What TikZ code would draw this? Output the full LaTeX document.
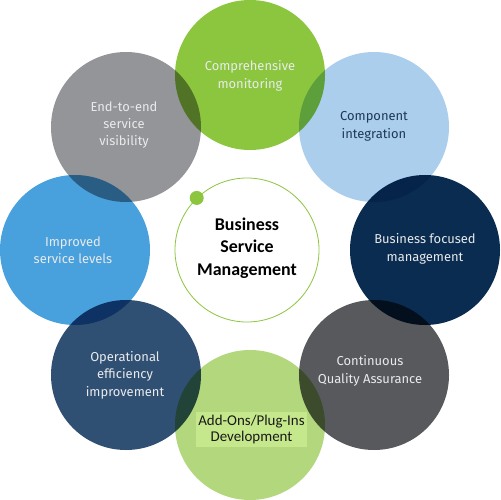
\documentclass[tikz,border=0pt]{standalone}
\usepackage{fontspec}
\setmainfont{Fira Sans}
\newfontfamily\calib{Carlito}
\definecolor{cgreen}{RGB}{140,198,63}
\definecolor{clblue}{RGB}{170,206,236}
\definecolor{cnavy}{RGB}{10,44,80}
\definecolor{cdgray}{RGB}{88,89,92}
\definecolor{clgreen}{RGB}{179,215,125}
\definecolor{cslate}{RGB}{48,80,115}
\definecolor{cblue}{RGB}{72,160,220}
\definecolor{cgray}{RGB}{147,149,152}
\definecolor{chl}{RGB}{198,232,140}
\definecolor{ctxt}{RGB}{232,234,236}
\definecolor{cdtxt}{RGB}{30,55,90}
\begin{document}
\begin{tikzpicture}[x=1bp,y=-1bp,
  circ/.style={circle,draw=none,minimum size=150bp,inner sep=0pt},
  lbl/.style={align=center,font=\fontsize{13}{17.5}\selectfont,text=ctxt,inner sep=0pt},
  hub/.style={circle,draw=cgreen,line width=0.8bp,fill=white,minimum size=144bp,inner sep=0pt},
  dot/.style={circle,fill=cgreen,minimum size=14bp,inner sep=0pt}]
\useasboundingbox (0,0) rectangle (500,500);
\fill[white] (0,0) rectangle (500,500);
\begin{scope}[blend group=multiply]
\node[circ,fill=cgreen] (c1) at (250,75) {};
\node[circ,fill=clblue] (c2) at (374,127) {};
\node[circ,fill=cnavy] (c3) at (425,250) {};
\node[circ,fill=cdgray] (c4) at (374,375) {};
\node[circ,fill=clgreen] (c5) at (250,425) {};
\node[circ,fill=cslate] (c6) at (126,375) {};
\node[circ,fill=cblue] (c7) at (75,250) {};
\node[circ,fill=cgray] (c8) at (126,127) {};
\end{scope}
\node[hub] (hub) at (247,250) {};
\node[dot] (d) at (hub.134) {};
\node[lbl] (t1) at (250,76) {Comprehensive\\monitoring};
\node[lbl,text=cdtxt] (t2) at (374,126.5) {Component\\integration};
\node[lbl] (t3) at (425,249) {Business focused\\management};
\node[lbl] (t4) at (370,371) {Continuous\\Quality Assurance};
\node[lbl] (t6) at (125,375) {Operational\\efficiency\\improvement};
\node[lbl] (t7) at (73,250) {Improved\\service levels};
\node[lbl] (t8) at (124,125) {End-to-end\\service\\visibility};
\node[fill=chl,minimum width=111bp,minimum height=35bp,inner sep=0pt,align=center,
  font=\calib\fontsize{15}{17}\selectfont,text=black!90] (t5) at (251.5,429.5) {Add-Ons/Plug-Ins\\Development};
\node[align=center,font=\calib\bfseries\fontsize{18}{22.5}\selectfont,inner sep=0pt] (tc) at (247,248) {Business\\Service\\Management};
\end{tikzpicture}
\end{document}
